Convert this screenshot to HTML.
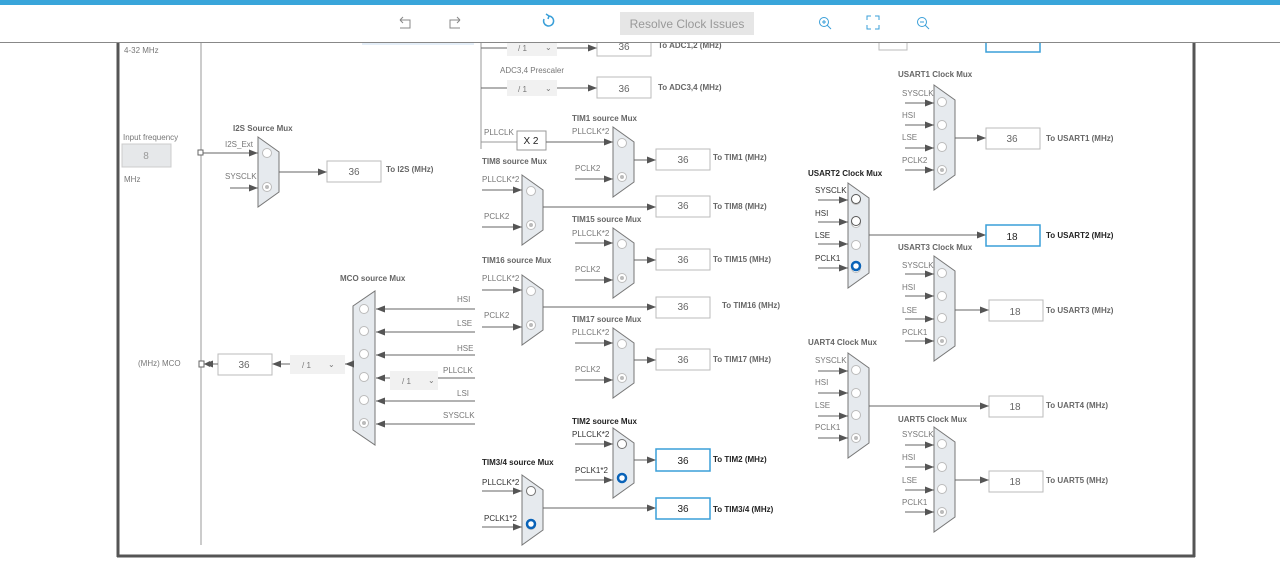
<!DOCTYPE html>
<html><head><meta charset="utf-8"><style>
html,body{margin:0;padding:0;background:#fff;}
svg{display:block;font-family:"Liberation Sans",sans-serif;}
.l{font-size:8px;fill:#777;}
.b{font-size:8px;fill:#666;font-weight:bold;}
.bd{font-size:8px;fill:#222;font-weight:bold;}
.v{font-size:10px;fill:#666;text-anchor:middle;}
.vd{font-size:10px;fill:#222;text-anchor:middle;}
line,polyline{stroke:#666;stroke-width:1;fill:none;}
.bx{fill:#fff;stroke:#bbb;}
.bxb{fill:#fff;stroke:#3a9fd8;stroke-width:1.5;}
</style></head><body>
<svg width="1280" height="565" viewBox="0 0 1280 565">
<defs>
<marker id="a" markerUnits="userSpaceOnUse" markerWidth="10" markerHeight="8" refX="9" refY="4" orient="auto"><path d="M0,0.5 L9,4 L0,7.5z" fill="#555"/></marker>
<g id="m2"><polygon points="0,0 21,15 21,55 0,70" fill="#e6eaee" stroke="#777"/>
<circle cx="9" cy="16" r="4.5" fill="#fff" stroke="#bbb"/><circle cx="9" cy="50" r="4.5" fill="#fff" stroke="#bbb"/><circle cx="9" cy="50" r="2" fill="#bbb"/></g>
<g id="m4"><polygon points="0,0 21,15 21,90 0,105" fill="#e6eaee" stroke="#777"/>
<circle cx="8" cy="17" r="4.5" fill="#fff" stroke="#bbb"/><circle cx="8" cy="40" r="4.5" fill="#fff" stroke="#bbb"/><circle cx="8" cy="62" r="4.5" fill="#fff" stroke="#bbb"/><circle cx="8" cy="85" r="4.5" fill="#fff" stroke="#bbb"/><circle cx="8" cy="85" r="2" fill="#bbb"/></g>
</defs>
<rect width="1280" height="565" fill="#fff"/>
<!-- frame -->
<line x1="118" y1="42" x2="118" y2="557" style="stroke:#555;stroke-width:3"/>
<line x1="117" y1="556" x2="1195" y2="556" style="stroke:#555;stroke-width:3"/>
<line x1="1194" y1="42" x2="1194" y2="557" style="stroke:#555;stroke-width:3"/>
<line x1="201" y1="42" x2="201" y2="545" style="stroke:#999"/>
<line x1="481" y1="42" x2="481" y2="149" style="stroke:#999"/>
<rect x="362" y="36" width="112" height="9" fill="#e4eef8"/>
<text class="l" x="124" y="53">4-32 MHz</text>
<text class="l" x="123" y="140">Input frequency</text>
<rect x="122" y="144" width="49" height="23" fill="#e6e8ea" stroke="#ccc"/>
<text class="v" x="146" y="159" style="fill:#999">8</text>
<text class="l" x="124" y="182">MHz</text>
<!-- ADC -->
<rect x="507" y="40" width="50" height="16" fill="#f1f1f1"/><text class="l" x="518" y="51">/ 1</text><text class="l" x="545" y="50">⌄</text>
<line x1="481" y1="48" x2="507" y2="48"/><line x1="557" y1="48" x2="597" y2="48" marker-end="url(#a)"/>
<rect class="bx" x="597" y="37" width="54" height="19"/><text class="v" x="624" y="50">36</text>
<text class="b" x="658" y="48">To ADC1,2 (MHz)</text>
<text class="l" x="500" y="73">ADC3,4 Prescaler</text>
<rect x="507" y="80" width="50" height="16" fill="#f1f1f1"/><text class="l" x="518" y="92">/ 1</text><text class="l" x="545" y="91">⌄</text>
<line x1="481" y1="88" x2="507" y2="88"/><line x1="557" y1="88" x2="597" y2="88" marker-end="url(#a)"/>
<rect class="bx" x="597" y="77" width="54" height="21"/><text class="v" x="624" y="92">36</text>
<text class="b" x="658" y="90">To ADC3,4 (MHz)</text>
<rect class="bx" x="879" y="32" width="28" height="18"/>
<rect class="bxb" x="986" y="30" width="54" height="22"/>
<!-- I2S -->
<text class="b" x="233" y="131">I2S Source Mux</text>
<text class="l" x="225" y="147">I2S_Ext</text><text class="l" x="225" y="179">SYSCLK</text>
<rect x="198" y="150" width="5" height="5" fill="#fff" stroke="#666"/>
<line x1="203" y1="153" x2="258" y2="153" marker-end="url(#a)"/>
<line x1="230" y1="188" x2="258" y2="188" marker-end="url(#a)"/>
<use href="#m2" x="258" y="137"/>
<line x1="279" y1="172" x2="327" y2="172" marker-end="url(#a)"/>
<rect class="bx" x="327" y="161" width="54" height="21"/><text class="v" x="354" y="175">36</text>
<text class="b" x="386" y="172">To I2S (MHz)</text>
<!-- TIM1 -->
<line x1="481" y1="142" x2="517" y2="142" style="stroke:#999"/>
<text class="l" x="484" y="135">PLLCLK</text>
<rect class="bx" x="517" y="131" width="29" height="19" style="stroke:#999"/><text class="vd" x="531" y="144">X 2</text>
<text class="b" x="572" y="121">TIM1 source Mux</text>
<text class="l" x="572" y="134">PLLCLK*2</text>
<line x1="546" y1="142" x2="613" y2="142" marker-end="url(#a)"/>
<text class="l" x="575" y="171">PCLK2</text>
<line x1="575" y1="179" x2="613" y2="179" marker-end="url(#a)"/>
<use href="#m2" x="613" y="127"/>
<line x1="634" y1="160" x2="656" y2="160" marker-end="url(#a)"/>
<rect class="bx" x="656" y="149" width="54" height="21"/><text class="v" x="683" y="163">36</text>
<text class="b" x="713" y="160">To TIM1 (MHz)</text>
<!-- TIM8 -->
<text class="b" x="482" y="164">TIM8 source Mux</text>
<text class="l" x="482" y="182">PLLCLK*2</text><line x1="482" y1="190" x2="522" y2="190" marker-end="url(#a)"/>
<text class="l" x="484" y="219">PCLK2</text><line x1="482" y1="227" x2="522" y2="227" marker-end="url(#a)"/>
<use href="#m2" x="522" y="175"/>
<line x1="543" y1="207" x2="656" y2="207" marker-end="url(#a)"/>
<rect class="bx" x="656" y="196" width="54" height="21"/><text class="v" x="683" y="209">36</text>
<text class="b" x="713" y="209">To TIM8 (MHz)</text>
<!-- TIM15 -->
<text class="b" x="572" y="222">TIM15 source Mux</text>
<text class="l" x="572" y="236">PLLCLK*2</text><line x1="575" y1="243" x2="613" y2="243" marker-end="url(#a)"/>
<text class="l" x="575" y="272">PCLK2</text><line x1="575" y1="280" x2="613" y2="280" marker-end="url(#a)"/>
<use href="#m2" x="613" y="228"/>
<line x1="634" y1="260" x2="656" y2="260" marker-end="url(#a)"/>
<rect class="bx" x="656" y="249" width="54" height="21"/><text class="v" x="683" y="263">36</text>
<text class="b" x="713" y="262">To TIM15 (MHz)</text>
<!-- TIM16 -->
<text class="b" x="482" y="263">TIM16 source Mux</text>
<text class="l" x="482" y="281">PLLCLK*2</text><line x1="482" y1="290" x2="522" y2="290" marker-end="url(#a)"/>
<text class="l" x="484" y="318">PCLK2</text><line x1="482" y1="327" x2="522" y2="327" marker-end="url(#a)"/>
<use href="#m2" x="522" y="275"/>
<line x1="543" y1="307" x2="656" y2="307" marker-end="url(#a)"/>
<rect class="bx" x="656" y="297" width="54" height="21"/><text class="v" x="683" y="310">36</text>
<text class="b" x="722" y="308">To TIM16 (MHz)</text>
<!-- TIM17 -->
<text class="b" x="572" y="322">TIM17 source Mux</text>
<text class="l" x="572" y="335">PLLCLK*2</text><line x1="575" y1="343" x2="613" y2="343" marker-end="url(#a)"/>
<text class="l" x="575" y="372">PCLK2</text><line x1="575" y1="380" x2="613" y2="380" marker-end="url(#a)"/>
<use href="#m2" x="613" y="328"/>
<line x1="634" y1="360" x2="656" y2="360" marker-end="url(#a)"/>
<rect class="bx" x="656" y="349" width="54" height="21"/><text class="v" x="683" y="363">36</text>
<text class="b" x="713" y="362">To TIM17 (MHz)</text>
<!-- TIM2 -->
<text class="bd" x="572" y="424">TIM2 source Mux</text>
<text class="l" x="572" y="437" style="fill:#333">PLLCLK*2</text><line x1="575" y1="444" x2="613" y2="444" marker-end="url(#a)"/>
<text class="l" x="575" y="473" style="fill:#333">PCLK1*2</text><line x1="575" y1="480" x2="613" y2="480" marker-end="url(#a)"/>
<use href="#m2" x="613" y="428"/>
<circle cx="622" cy="444" r="4.5" fill="#fff" stroke="#777"/>
<circle cx="622" cy="478" r="4" fill="#fff" stroke="#0a63b8" stroke-width="2.5"/>
<line x1="634" y1="460" x2="656" y2="460" marker-end="url(#a)"/>
<rect class="bxb" x="656" y="449" width="54" height="22"/><text class="vd" x="683" y="464">36</text>
<text class="bd" x="713" y="462">To TIM2 (MHz)</text>
<!-- TIM3/4 -->
<text class="bd" x="482" y="465">TIM3/4 source Mux</text>
<text class="l" x="482" y="485" style="fill:#333">PLLCLK*2</text><line x1="482" y1="491" x2="522" y2="491" marker-end="url(#a)"/>
<text class="l" x="484" y="521" style="fill:#333">PCLK1*2</text><line x1="482" y1="527" x2="522" y2="527" marker-end="url(#a)"/>
<use href="#m2" x="522" y="475"/>
<circle cx="531" cy="491" r="4.5" fill="#fff" stroke="#777"/>
<circle cx="531" cy="524" r="4" fill="#fff" stroke="#0a63b8" stroke-width="2.5"/>
<line x1="543" y1="508" x2="656" y2="508" marker-end="url(#a)"/>
<rect class="bxb" x="656" y="498" width="54" height="21"/><text class="vd" x="683" y="512">36</text>
<text class="bd" x="713" y="512">To TIM3/4 (MHz)</text>
<!-- MCO -->
<text class="b" x="340" y="281">MCO source Mux</text>
<polygon points="375,291 375,445 353,430 353,306" fill="#e6eaee" stroke="#777"/>
<circle cx="364" cy="309" r="4.5" fill="#fff" stroke="#bbb"/>
<circle cx="364" cy="331" r="4.5" fill="#fff" stroke="#bbb"/>
<circle cx="364" cy="354" r="4.5" fill="#fff" stroke="#bbb"/>
<circle cx="364" cy="377" r="4.5" fill="#fff" stroke="#bbb"/>
<circle cx="364" cy="400" r="4.5" fill="#fff" stroke="#bbb"/>
<circle cx="364" cy="423" r="4.5" fill="#fff" stroke="#bbb"/><circle cx="364" cy="423" r="2" fill="#bbb"/>
<line x1="475" y1="309" x2="376" y2="309" marker-end="url(#a)"/><text class="l" x="457" y="302">HSI</text>
<line x1="475" y1="332" x2="376" y2="332" marker-end="url(#a)"/><text class="l" x="457" y="326">LSE</text>
<line x1="475" y1="355" x2="376" y2="355" marker-end="url(#a)"/><text class="l" x="457" y="351">HSE</text>
<line x1="475" y1="378" x2="438" y2="378"/><text class="l" x="443" y="373">PLLCLK</text>
<rect x="390" y="371" width="48" height="19" fill="#f1f1f1"/><text class="l" x="402" y="384">/ 1</text><text class="l" x="428" y="383">⌄</text>
<line x1="390" y1="378" x2="376" y2="378" marker-end="url(#a)"/>
<line x1="475" y1="401" x2="376" y2="401" marker-end="url(#a)"/><text class="l" x="457" y="396">LSI</text>
<line x1="475" y1="424" x2="376" y2="424" marker-end="url(#a)"/><text class="l" x="443" y="418">SYSCLK</text>
<line x1="353" y1="364" x2="345" y2="364" marker-end="url(#a)"/>
<rect x="290" y="355" width="55" height="19" fill="#f1f1f1"/><text class="l" x="302" y="368">/ 1</text><text class="l" x="328" y="367">⌄</text>
<line x1="290" y1="364" x2="272" y2="364" marker-end="url(#a)"/>
<rect class="bx" x="218" y="354" width="54" height="21"/><text class="v" x="244" y="368">36</text>
<line x1="218" y1="364" x2="204" y2="364" marker-end="url(#a)"/>
<path d="M210,361 L204,364 L210,367z" fill="#555"/>
<rect x="199" y="361" width="5" height="6" fill="#fff" stroke="#666"/>
<text class="l" x="138" y="366">(MHz) MCO</text>
<!-- USART1 -->
<text class="b" x="898" y="77">USART1 Clock Mux</text>
<use href="#m4" x="934" y="85"/>
<text class="l" x="902" y="96">SYSCLK</text><line x1="905" y1="103" x2="934" y2="103" marker-end="url(#a)"/>
<text class="l" x="902" y="118">HSI</text><line x1="905" y1="125" x2="934" y2="125" marker-end="url(#a)"/>
<text class="l" x="902" y="140">LSE</text><line x1="905" y1="148" x2="934" y2="148" marker-end="url(#a)"/>
<text class="l" x="902" y="163">PCLK2</text><line x1="905" y1="170" x2="934" y2="170" marker-end="url(#a)"/>
<line x1="955" y1="138" x2="986" y2="138" marker-end="url(#a)"/>
<rect class="bx" x="986" y="128" width="54" height="21"/><text class="v" x="1012" y="142">36</text>
<text class="b" x="1046" y="141">To USART1 (MHz)</text>
<!-- USART2 -->
<text class="bd" x="808" y="176">USART2 Clock Mux</text>
<use href="#m4" x="848" y="183"/>
<circle cx="856" cy="199" r="4.5" fill="#fff" stroke="#555"/>
<circle cx="856" cy="221" r="4.5" fill="#fff" stroke="#555"/>
<circle cx="856" cy="266" r="4" fill="#fff" stroke="#0a63b8" stroke-width="2.5"/>
<text class="l" x="815" y="193" style="fill:#333">SYSCLK</text><line x1="818" y1="200" x2="848" y2="200" marker-end="url(#a)"/>
<text class="l" x="815" y="216" style="fill:#333">HSI</text><line x1="818" y1="222" x2="848" y2="222" marker-end="url(#a)"/>
<text class="l" x="815" y="238" style="fill:#333">LSE</text><line x1="818" y1="244" x2="848" y2="244" marker-end="url(#a)"/>
<text class="l" x="815" y="261" style="fill:#333">PCLK1</text><line x1="818" y1="268" x2="848" y2="268" marker-end="url(#a)"/>
<line x1="869" y1="235" x2="986" y2="235" marker-end="url(#a)"/>
<rect class="bxb" x="986" y="225" width="54" height="21"/><text class="vd" x="1012" y="240">18</text>
<text class="bd" x="1046" y="238">To USART2 (MHz)</text>
<!-- USART3 -->
<text class="b" x="898" y="250">USART3 Clock Mux</text>
<use href="#m4" x="934" y="256"/>
<text class="l" x="902" y="268">SYSCLK</text><line x1="905" y1="274" x2="934" y2="274" marker-end="url(#a)"/>
<text class="l" x="902" y="290">HSI</text><line x1="905" y1="296" x2="934" y2="296" marker-end="url(#a)"/>
<text class="l" x="902" y="313">LSE</text><line x1="905" y1="319" x2="934" y2="319" marker-end="url(#a)"/>
<text class="l" x="902" y="335">PCLK1</text><line x1="905" y1="341" x2="934" y2="341" marker-end="url(#a)"/>
<line x1="955" y1="310" x2="989" y2="310" marker-end="url(#a)"/>
<rect class="bx" x="989" y="300" width="54" height="21"/><text class="v" x="1015" y="315">18</text>
<text class="b" x="1046" y="313">To USART3 (MHz)</text>
<!-- UART4 -->
<text class="b" x="808" y="345">UART4 Clock Mux</text>
<use href="#m4" x="848" y="353"/>
<text class="l" x="815" y="363">SYSCLK</text><line x1="818" y1="371" x2="848" y2="371" marker-end="url(#a)"/>
<text class="l" x="815" y="385">HSI</text><line x1="818" y1="393" x2="848" y2="393" marker-end="url(#a)"/>
<text class="l" x="815" y="408">LSE</text><line x1="818" y1="416" x2="848" y2="416" marker-end="url(#a)"/>
<text class="l" x="815" y="430">PCLK1</text><line x1="818" y1="438" x2="848" y2="438" marker-end="url(#a)"/>
<line x1="869" y1="406" x2="989" y2="406" marker-end="url(#a)"/>
<rect class="bx" x="989" y="396" width="54" height="21"/><text class="v" x="1015" y="410">18</text>
<text class="b" x="1046" y="408">To UART4 (MHz)</text>
<!-- UART5 -->
<text class="b" x="898" y="422">UART5 Clock Mux</text>
<use href="#m4" x="934" y="427"/>
<text class="l" x="902" y="437">SYSCLK</text><line x1="905" y1="445" x2="934" y2="445" marker-end="url(#a)"/>
<text class="l" x="902" y="460">HSI</text><line x1="905" y1="467" x2="934" y2="467" marker-end="url(#a)"/>
<text class="l" x="902" y="483">LSE</text><line x1="905" y1="490" x2="934" y2="490" marker-end="url(#a)"/>
<text class="l" x="902" y="505">PCLK1</text><line x1="905" y1="512" x2="934" y2="512" marker-end="url(#a)"/>
<line x1="955" y1="480" x2="989" y2="480" marker-end="url(#a)"/>
<rect class="bx" x="989" y="471" width="54" height="21"/><text class="v" x="1015" y="485">18</text>
<text class="b" x="1046" y="483">To UART5 (MHz)</text>
<!-- toolbar -->
<rect x="0" y="0" width="1280" height="42" fill="#fff"/>
<rect x="0" y="0" width="1280" height="5" fill="#39a5da"/>
<line x1="0" y1="42.5" x2="1280" y2="42.5" style="stroke:#888"/>
<path d="M400,20 h10 v8 h-10 M400,20 l3,-3 M400,20 l3,3" style="stroke:#888;fill:none"/>
<path d="M460,20 h-10 v8 h10 M460,20 l-3,-3 M460,20 l-3,3" style="stroke:#888;fill:none"/>
<path d="M544,19 a5,5 0 1 0 5,-3 M549,16 l-3,-2 M549,16 l-1,3" style="stroke:#3a9fd8;stroke-width:1.5;fill:none"/>
<rect x="620" y="12" width="134" height="23" fill="#e6e6e6"/>
<text x="687" y="28" style="font-size:12px;fill:#999;text-anchor:middle">Resolve Clock Issues</text>
<circle cx="824" cy="22" r="4.5" style="stroke:#3a9fd8;fill:none"/><line x1="827" y1="25" x2="831" y2="29" style="stroke:#3a9fd8"/>
<path d="M822,22 h4 M824,20 v4" style="stroke:#3a9fd8"/>
<path d="M867,20 v-4 h4 M875,16 h4 v4 M879,25 v4 h-4 M871,29 h-4 v-4" style="stroke:#3a9fd8;fill:none"/>
<circle cx="922" cy="22" r="4.5" style="stroke:#3a9fd8;fill:none"/><line x1="925" y1="25" x2="929" y2="29" style="stroke:#3a9fd8"/>
<path d="M920,22 h4" style="stroke:#3a9fd8"/>
</svg>
</body></html>
